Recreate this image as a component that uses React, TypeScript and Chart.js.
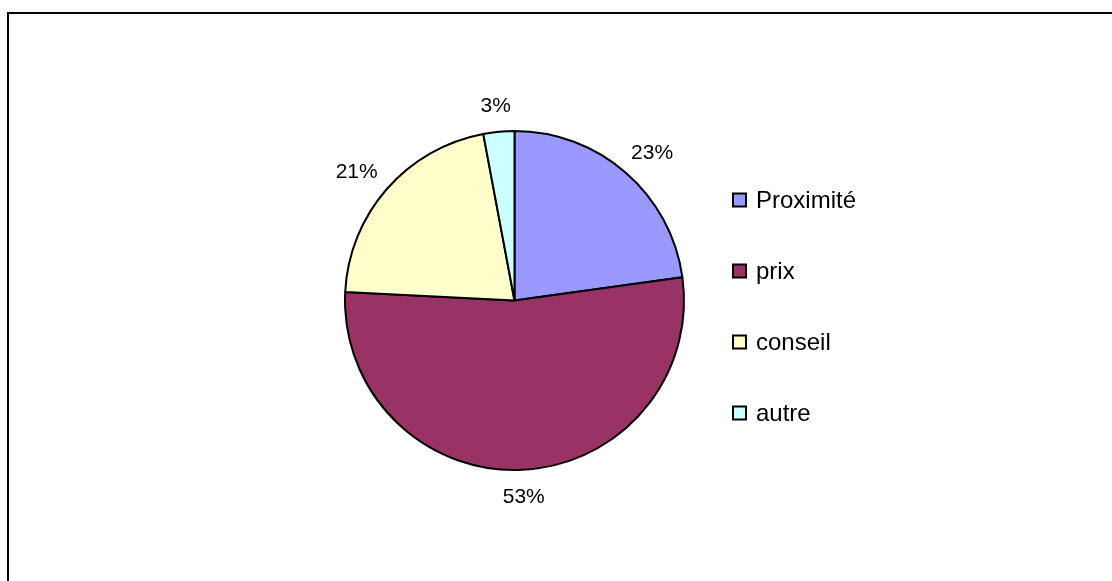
import React, { useEffect, useRef } from "react";
import { Chart, registerables } from "chart.js";

Chart.register(...registerables);

const categories = ["Proximité", "prix", "conseil", "autre"];
const values = [22.8, 53.0, 21.25, 2.95];
const colors = ["#9999FF", "#993366", "#FFFFCC", "#CCFFFF"];

const FONT = '"Liberation Sans", Arial, sans-serif';

const framePlugin = {
  id: "frame",
  beforeDraw(chart: any) {
    const ctx = chart.ctx;
    ctx.save();
    ctx.fillStyle = "#ffffff";
    ctx.fillRect(0, 0, chart.width, chart.height);
    ctx.strokeStyle = "#000000";
    ctx.lineWidth = 2;
    ctx.beginPath();
    ctx.moveTo(8, chart.height + 5);
    ctx.lineTo(8, 13);
    ctx.lineTo(chart.width + 5, 13);
    ctx.stroke();
    ctx.restore();
  },
};

const pctLabelPlugin = {
  id: "pctLabels",
  afterDatasetsDraw(chart: any) {
    const ctx = chart.ctx;
    const meta = chart.getDatasetMeta(0);
    const data = chart.data.datasets[0].data as number[];
    const total = data.reduce((a, b) => a + b, 0);
    ctx.save();
    ctx.font = `21px ${FONT}`;
    ctx.fillStyle = "#000000";
    ctx.textAlign = "center";
    ctx.textBaseline = "middle";
    const gap = 19;
    const h = 15;
    meta.data.forEach((arc: any, i: number) => {
      const { x, y, startAngle, endAngle, outerRadius } = arc.getProps(
        ["x", "y", "startAngle", "endAngle", "outerRadius"],
        true
      );
      const mid = (startAngle + endAngle) / 2;
      const ux = Math.cos(mid);
      const uy = Math.sin(mid);
      const text = Math.round((data[i] / total) * 100) + "%";
      const w = ctx.measureText(text).width;
      const px = x + (outerRadius + gap) * ux + (w / 2) * ux;
      const py = y + (outerRadius + gap) * uy + (h / 2) * uy;
      ctx.fillText(text, px, py + 1);
    });
    ctx.restore();
  },
};

const legendPlugin = {
  id: "customLegend",
  afterDraw(chart: any) {
    const ctx = chart.ctx;
    const labels = chart.data.labels as string[];
    const bg = chart.data.datasets[0].backgroundColor as string[];
    const x0 = 733;
    const y0 = 200;
    const step = 71;
    const box = 13;
    ctx.save();
    ctx.font = `24px ${FONT}`;
    ctx.textAlign = "left";
    ctx.textBaseline = "middle";
    labels.forEach((lab, i) => {
      const cy = y0 + i * step;
      ctx.fillStyle = bg[i];
      ctx.fillRect(x0, cy - box / 2, box, box);
      ctx.strokeStyle = "#000000";
      ctx.lineWidth = 2;
      ctx.strokeRect(x0, cy - box / 2, box, box);
      ctx.fillStyle = "#000000";
      ctx.fillText(lab, x0 + 23, cy + 1);
    });
    ctx.restore();
  },
};

export default function App() {
  const ref = useRef<HTMLCanvasElement | null>(null);
  useEffect(() => {
    if (!ref.current) return;
    const chart = new Chart(ref.current, {
      type: "pie",
      data: {
        labels: categories,
        datasets: [
          {
            data: values,
            backgroundColor: colors,
            borderColor: "#000000",
            borderWidth: 2,
          },
        ],
      },
      options: {
        responsive: false,
        animation: false,
        events: [],
        layout: {
          padding: { left: 344, right: 427, top: 130, bottom: 110 },
        },
        plugins: {
          legend: { display: false },
          tooltip: { enabled: false },
          title: { display: false },
        },
      },
      plugins: [framePlugin, pctLabelPlugin, legendPlugin],
    });
    return () => chart.destroy();
  }, []);
  return (
    <div style={{ position: "fixed", left: 0, top: 0, width: 1112, height: 581 }}>
      <canvas ref={ref} width={1112} height={581} />
    </div>
  );
}
